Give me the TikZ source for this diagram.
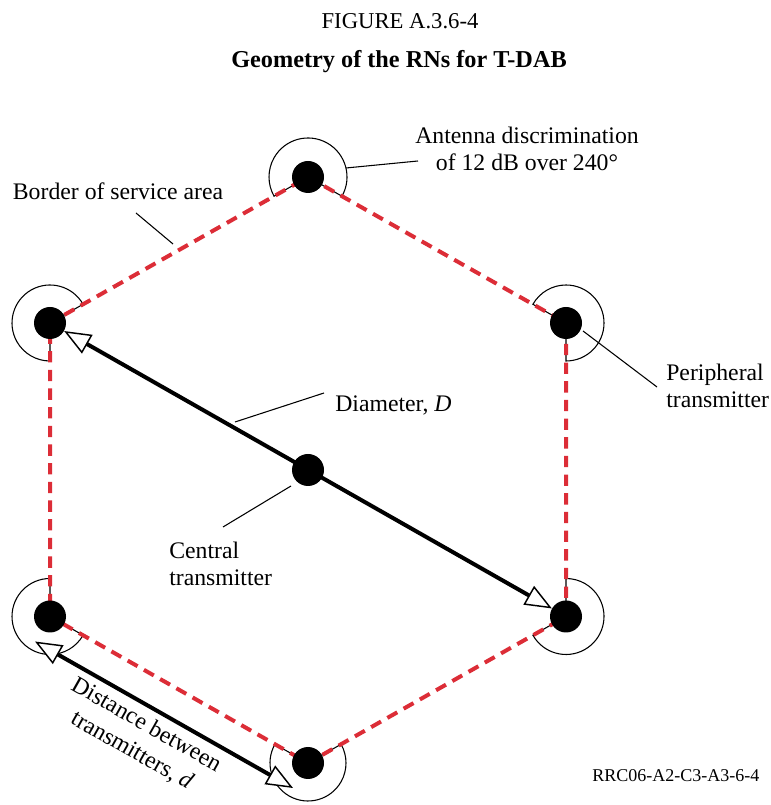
\documentclass[tikz,border=0pt]{standalone}
\usepackage{fontspec}
\setmainfont{Liberation Serif}
\usetikzlibrary{arrows.meta,calc}
\definecolor{borderred}{RGB}{220,45,55}
\begin{document}
\begin{tikzpicture}[x=0.75pt,y=0.75pt,
  dot/.style={circle,fill=black,inner sep=0pt,minimum size=24pt},
  antenna/.style={line width=0.8pt},
  borderline/.style={draw=borderred,line width=3pt,dash pattern=on 8.5pt off 5.5pt},
  leader/.style={line width=0.8pt},
  lbl/.style={font=\fontsize{17.8}{20.5}\selectfont,inner sep=0pt},
  measure/.style={line width=3pt,{Triangle[length=20pt,width=16pt,fill=white,line width=1.1pt]}-{Triangle[length=20pt,width=16pt,fill=white,line width=1.1pt]}},
]
\useasboundingbox (0,0) rectangle (770,805);
% positions
\coordinate (pT)  at (308,628);
\coordinate (pLT) at (50,482);
\coordinate (pRT) at (566,482);
\coordinate (pC)  at (308,335);
\coordinate (pLB) at (50,188.5);
\coordinate (pRB) at (566,188.5);
\coordinate (pB)  at (308,42);
% antenna patterns (240 degrees)
\draw[antenna] (pT)  -- ++(-29.5:39) arc[start angle=-29.5,end angle=209.5,radius=39] -- cycle;
\draw[antenna] (pLT) -- ++(29.5:38) arc[start angle=29.5,end angle=270,radius=38] -- cycle;
\draw[antenna] (pRT) -- ++(-90:38) arc[start angle=-90,end angle=150.5,radius=38] -- cycle;
\draw[antenna] (pLB) -- ++(90:38) arc[start angle=90,end angle=330.5,radius=38] -- cycle;
\draw[antenna] (pRB) -- ++(209.5:38) arc[start angle=209.5,end angle=450,radius=38] -- cycle;
\draw[antenna] (pB)  -- ++(150.5:38) arc[start angle=150.5,end angle=389.5,radius=38] -- cycle;
% border of service area
\draw[borderline] (pT) -- (pRT) -- (pRB) -- (pB) -- (pLB) -- (pLT) -- cycle;
% transmitters
\node[dot] (T)  at (pT)  {};
\node[dot] (LT) at (pLT) {};
\node[dot] (RT) at (pRT) {};
\node[dot] (C)  at (pC)  {};
\node[dot] (LB) at (pLB) {};
\node[dot] (RB) at (pRB) {};
\node[dot] (B)  at (pB)  {};
% diameter
\draw[measure] (LT) -- (RB);
% distance between transmitters
\coordinate (dA) at ($(pLB)+(-15,-25)$);
\coordinate (dB) at ($(pB)+(-15,-25)$);
\draw[measure] (dA) -- (dB);
% titles
\node[lbl,anchor=base,font=\fontsize{17}{20}\selectfont] (fig) at (400,776) {FIGURE A.3.6-4};
\node[lbl,anchor=base,font=\fontsize{18.2}{21}\selectfont\bfseries] (title) at (399,737) {Geometry of the RNs for T-DAB};
% labels
\node[lbl,anchor=base,align=center] (antlbl) at (527,634) {Antenna discrimination\\of 12 dB over 240°};
\coordinate (antA) at (346,637);
\coordinate (antB) at (418,644);
\draw[leader] (antA) -- (antB);
\node[lbl,anchor=base] (bordlbl) at (118,605) {Border of service area};
\coordinate (borA) at (136,592);
\coordinate (borB) at (173,561);
\draw[leader] (borA) -- (borB);
\node[lbl,anchor=base west,align=left] (perlbl) at (666,397) {Peripheral\\transmitter};
\coordinate (perA) at (583,474);
\coordinate (perB) at (657,418);
\draw[leader] (perA) -- (perB);
\node[lbl,anchor=base west] (diamlbl) at (335,393) {Diameter, \textit{D}};
\coordinate (diaA) at (235,383);
\coordinate (diaB) at (324,412);
\draw[leader] (diaA) -- (diaB);
\node[lbl,anchor=base west,align=left] (centlbl) at (169,219) {Central\\transmitter};
\coordinate (cenA) at (223,278);
\coordinate (cenB) at (291,319);
\draw[leader] (cenA) -- (cenB);
\node[lbl,align=center,rotate=-29.5,font=\fontsize{17.8}{22}\selectfont] (distlbl) at (139,67) {Distance between\\transmitters, \textit{d}};
\node[anchor=base west,inner sep=0pt,font=\fontsize{13.5}{16}\selectfont] (code) at (592,23) {RRC06-A2-C3-A3-6-4};
\end{tikzpicture}
\end{document}
